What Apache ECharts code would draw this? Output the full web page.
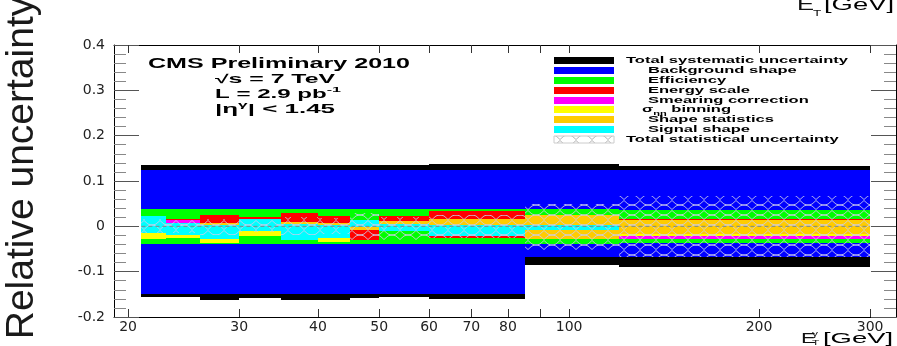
<!DOCTYPE html>
<html><head><meta charset="utf-8">
<script src="https://cdn.jsdelivr.net/npm/echarts@6/dist/echarts.min.js"></script>
<style>html,body{margin:0;padding:0;background:#fff;overflow:hidden}#c{width:897px;height:346px}</style>
</head><body><div id="c"></div>
<script>
// ---- data ----
const binEdges = [21, 23, 26, 30, 35, 40, 45, 50, 60, 85, 120, 300];
const totalSystUp   = [0.135, 0.135, 0.136, 0.136, 0.135, 0.135, 0.135, 0.135, 0.137, 0.137, 0.132];
const totalSystDown = [-0.156, -0.156, -0.163, -0.158, -0.162, -0.162, -0.158, -0.156, -0.160, -0.085, -0.090];
const bkgShapeUp    = [0.124, 0.124, 0.124, 0.124, 0.124, 0.124, 0.124, 0.124, 0.125, 0.124, 0.124];
const bkgShapeDown  = [-0.149, -0.149, -0.149, -0.149, -0.149, -0.149, -0.149, -0.149, -0.149, -0.067, -0.068];
const efficiencyUp   = [0.039, 0.039, 0.039, 0.039, 0.039, 0.039, 0.039, 0.039, 0.038, 0.038, 0.037];
const efficiencyDown = [-0.038, -0.038, -0.038, -0.038, -0.038, -0.038, -0.038, -0.038, -0.038, -0.039, -0.037];
const energyScaleUp   = [0, 0.017, 0.026, 0.020, 0.030, 0.022, 0, 0.022, 0.033, 0, 0.017];
const energyScaleDown = [0, 0, 0, 0, 0, 0, -0.031, 0, -0.026, 0, 0];
const smearingUp   = [0, 0.014, 0, 0, 0, 0, 0, 0, 0, 0, 0];
const smearingDown = [0, 0, 0, 0, 0, 0, 0, 0, 0, 0, -0.027];
const binningUp   = [0, 0, 0, 0, 0, 0, 0, 0, 0, 0, 0];
const binningDown = [-0.029, -0.025, -0.036, -0.022, 0, -0.035, 0, 0, 0, 0, -0.022];
const shapeStatUp   = [0, 0, 0.008, 0, 0.009, 0.007, 0, 0.012, 0.017, 0.025, 0.014];
const shapeStatDown = [0, 0, 0, 0, 0, 0, -0.007, 0, 0, -0.027, -0.018];
const signalShapeUp   = [0.023, 0.0066, 0.004, 0.017, 0.005, 0.004, 0.013, 0.005, 0.004, 0.004, 0];
const signalShapeDown = [-0.014, -0.020, -0.028, -0.011, -0.031, -0.025, -0.0015, -0.011, -0.022, -0.009, 0];
const statUp   = [0.017, 0.015, 0.017, 0.013, 0.020, 0.018, 0.030, 0.020, 0.025, 0.050, 0.068];
const statDown = [-0.015, -0.015, -0.020, -0.013, -0.020, -0.018, -0.030, -0.030, -0.025, -0.052, -0.068];

const xTickValues  = [20, 30, 40, 50, 60, 70, 80, 90, 100, 200, 300];
const xLabelValues = [20, 30, 40, 50, 60, 70, 80, 100, 200, 300];
const xRange = [19.0, 329.7];
const yRange = [-0.2, 0.4];

const legendLabels = ['Total systematic uncertainty', 'Background shape', 'Efficiency', 'Energy scale',
  'Smearing correction', 'σηη binning', 'Shape statistics', 'Signal shape', 'Total statistical uncertainty'];

// ---- styles ----
const FAM = 'Liberation Sans, Arial, Helvetica, sans-serif';
const TICKFAM = 'DejaVu Sans, Liberation Sans, sans-serif';
const COLORS = ['#000000', '#0000ff', '#00ff00', '#ff0000', '#ff00ff', '#ffff00', '#ffcc00', '#00ffff'];
const lx = Math.log10;

function makePattern(color) {
  const c = document.createElement('canvas'); c.width = 16; c.height = 10;
  const g = c.getContext('2d'); g.strokeStyle = color; g.lineWidth = 1;
  g.beginPath(); g.moveTo(0, 0.5); g.quadraticCurveTo(8, 10, 16, 0.5);
  g.moveTo(0, 9.5); g.quadraticCurveTo(8, 0, 16, 9.5); g.stroke();
  return c;
}
const hatchPlot = makePattern('rgba(205,205,235,0.85)');
const hatchLegend = makePattern('#b5b5b5');

const mctx = document.createElement('canvas').getContext('2d');
function tw(t, size, weight) { mctx.font = weight + ' ' + size + 'px ' + FAM; return mctx.measureText(t).width; }

function bandSeries(name, up, down, fill, z) {
  const data = up.map((u, i) => [lx(binEdges[i]), lx(binEdges[i + 1]), down[i], u]);
  return {
    type: 'custom', name, z, silent: true, data,
    encode: { x: [0, 1], y: [2, 3] },
    renderItem: (params, api) => {
      const a = api.coord([api.value(0), api.value(3)]);
      const b = api.coord([api.value(1), api.value(2)]);
      const x0 = Math.round(a[0]), x1 = Math.round(b[0]);
      const y0 = Math.round(a[1]), y1 = Math.round(b[1]);
      return { type: 'rect', shape: { x: x0, y: y0, width: x1 - x0, height: y1 - y0 }, style: { fill } };
    }
  };
}

// rich text helper: parts = [[text, kind]], kind n|sup|sub
function richText(parts, left, cy, targetW, size, weight) {
  const small = Math.round(size * 0.68);
  let w = 0;
  parts.forEach(([t, k]) => { w += tw(t, k === 'n' ? size : small, weight); });
  const sx = targetW / w;
  const base = { fontFamily: FAM, fontWeight: weight, fill: '#000' };
  return {
    type: 'text', x: left, y: cy, scaleX: sx, silent: true,
    style: {
      text: parts.map(([t, k]) => '{' + k + '|' + t + '}').join(''),
      rich: {
        n: Object.assign({ fontSize: size, lineHeight: size + 6, verticalAlign: 'middle' }, base),
        sup: Object.assign({ fontSize: small, lineHeight: small, verticalAlign: 'top' }, base),
        sub: Object.assign({ fontSize: small, lineHeight: small, verticalAlign: 'bottom' }, base)
      },
      align: 'left', verticalAlign: 'middle'
    }
  };
}

const chart = echarts.init(document.getElementById('c'));

const bands = [
  ['Total systematic uncertainty', totalSystUp, totalSystDown],
  ['Background shape', bkgShapeUp, bkgShapeDown],
  ['Efficiency', efficiencyUp, efficiencyDown],
  ['Energy scale', energyScaleUp, energyScaleDown],
  ['Smearing correction', smearingUp, smearingDown],
  ['binning', binningUp, binningDown],
  ['Shape statistics', shapeStatUp, shapeStatDown],
  ['Signal shape', signalShapeUp, signalShapeDown]
];
const series = bands.map((b, i) => bandSeries(b[0], b[1], b[2], COLORS[i], 2 + i));
series.push(bandSeries('Total statistical uncertainty', statUp, statDown, { image: hatchPlot, repeat: 'repeat' }, 12));
series.push({
  type: 'line', z: 13, silent: true, symbol: 'none',
  data: [[lx(binEdges[0]), 0], [lx(binEdges[binEdges.length - 1]), 0]],
  lineStyle: { color: '#7a8a8a', width: 1, type: [4, 3] }
});

const tickColor = '#555';
const xAxisCommon = {
  type: 'value', min: lx(xRange[0]), max: lx(xRange[1]),
  splitLine: { show: false },
  axisLine: { show: true, onZero: false, lineStyle: { color: '#000', width: 1 } },
  axisTick: { show: true, inside: true, length: 8, lineStyle: { color: '#333' }, customValues: xTickValues.map(lx) }
};
const yAxisCommon = {
  type: 'value', min: yRange[0], max: yRange[1], interval: 0.1,
  splitLine: { show: false },
  axisLine: { show: true, onZero: false, lineStyle: { color: '#000', width: 1 } },
  axisTick: { show: true, inside: true, length: 25, lineStyle: { color: tickColor } },
  minorTick: { show: true, splitNumber: 5, length: 12, lineStyle: { color: '#888' } }
};

// legend graphics
const legendG = [];
const rowY0 = 60.8, rowStep = 9.83;
const legScale = 222 / tw(legendLabels[0], 9, 'bold');
legendLabels.forEach((lab, i) => {
  const cy = rowY0 + i * rowStep;
  const isStat = i === 8;
  legendG.push({
    type: 'rect', silent: true, shape: { x: 554, y: Math.round(cy - 3.5), width: 60, height: 7 },
    style: isStat ? { fill: { image: hatchLegend, repeat: 'repeat' }, stroke: '#ccc', lineWidth: 1 } : { fill: COLORS[i] }
  });
  const left = (i === 0 || i === 8) ? 626 : (i === 5 ? 642 : 648);
  if (i === 5) {
    legendG.push({
      type: 'text', x: left, y: cy, scaleX: legScale, silent: true,
      style: {
        text: '{n|σ}{sub|ηη}{n| binning}', align: 'left', verticalAlign: 'middle',
        rich: {
          n: { fontSize: 9, fontWeight: 'bold', fontFamily: FAM, fill: '#000', lineHeight: 12, verticalAlign: 'middle' },
          sub: { fontSize: 6, fontWeight: 'bold', fontFamily: FAM, fill: '#000', lineHeight: 6, verticalAlign: 'bottom' }
        }
      }
    });
  } else {
    legendG.push({
      type: 'text', x: left, y: cy, scaleX: legScale, silent: true,
      style: { text: lab, fontSize: 9, fontWeight: 'bold', fontFamily: FAM, fill: '#000', align: 'left', verticalAlign: 'middle' }
    });
  }
});

const graphics = [
  // y title (unstretched)
  { type: 'text', x: 22, y: 168, rotation: Math.PI / 2, silent: true,
    style: { text: 'Relative uncertainty', fontSize: 39, fontFamily: FAM, fill: '#1a1a1a', align: 'center', verticalAlign: 'middle' } },
  // annotations
  richText([['CMS Preliminary 2010', 'n']], 148, 64, 262, 14, 'bold'),
  richText([['√s = 7 TeV', 'n']], 215, 80, 120, 12, 'bold'),
  richText([['L = 2.9 pb', 'n'], ['-1', 'sup']], 215, 95, 126, 12, 'bold'),
  richText([['|η', 'n'], ['γ', 'sup'], ['| < 1.45', 'n']], 215, 110, 120, 12, 'bold'),
  // x-axis title bottom right
  { type: 'text', x: 801, y: 339, scaleX: 1.6, silent: true,
    style: { text: 'E', fontSize: 14, fontFamily: FAM, fill: '#111', align: 'left', verticalAlign: 'middle' } },
  { type: 'text', x: 812, y: 334, scaleX: 1.5, silent: true,
    style: { text: 'γ', fontSize: 8, fontFamily: FAM, fill: '#111', align: 'left', verticalAlign: 'middle' } },
  { type: 'text', x: 812, y: 343, scaleX: 1.5, silent: true,
    style: { text: 'T', fontSize: 8, fontFamily: FAM, fill: '#111', align: 'left', verticalAlign: 'middle' } },
  richText([['[GeV]', 'n']], 823, 339, 70, 14, 'normal'),
  // top-right cut-off title
  { type: 'text', x: 797, y: 6, scaleX: 1.6, silent: true,
    style: { text: 'E', fontSize: 16, fontFamily: FAM, fill: '#111', align: 'left', verticalAlign: 'middle' } },
  { type: 'text', x: 813, y: 14, scaleX: 1.5, silent: true,
    style: { text: 'T', fontSize: 9, fontFamily: FAM, fill: '#111', align: 'left', verticalAlign: 'middle' } },
  richText([['[GeV]', 'n']], 824, 6, 70, 16, 'normal')
].concat(legendG);

chart.setOption({
  animation: false,
  backgroundColor: '#ffffff',
  grid: { left: 114, right: 1, top: 45, bottom: 29, containLabel: false, outerBoundsMode: 'none' },
  xAxis: [
    Object.assign({}, xAxisCommon, {
      position: 'bottom',
      axisLabel: { show: true, margin: 3, fontSize: 14, fontFamily: TICKFAM, color: '#222',
        customValues: xLabelValues.map(lx), formatter: v => String(Math.round(Math.pow(10, v))) }
    }),
    Object.assign({}, xAxisCommon, { position: 'top', axisLabel: { show: false } })
  ],
  yAxis: [
    Object.assign({}, yAxisCommon, {
      position: 'left',
      axisLabel: { show: true, margin: 9, fontSize: 14, fontFamily: TICKFAM, color: '#222',
        formatter: v => { const r = Math.round(v * 10) / 10; return r === 0 ? '0' : String(r); } }
    }),
    Object.assign({}, yAxisCommon, { position: 'right', axisLabel: { show: false } })
  ],
  series,
  graphic: graphics
});
</script>
</body></html>
